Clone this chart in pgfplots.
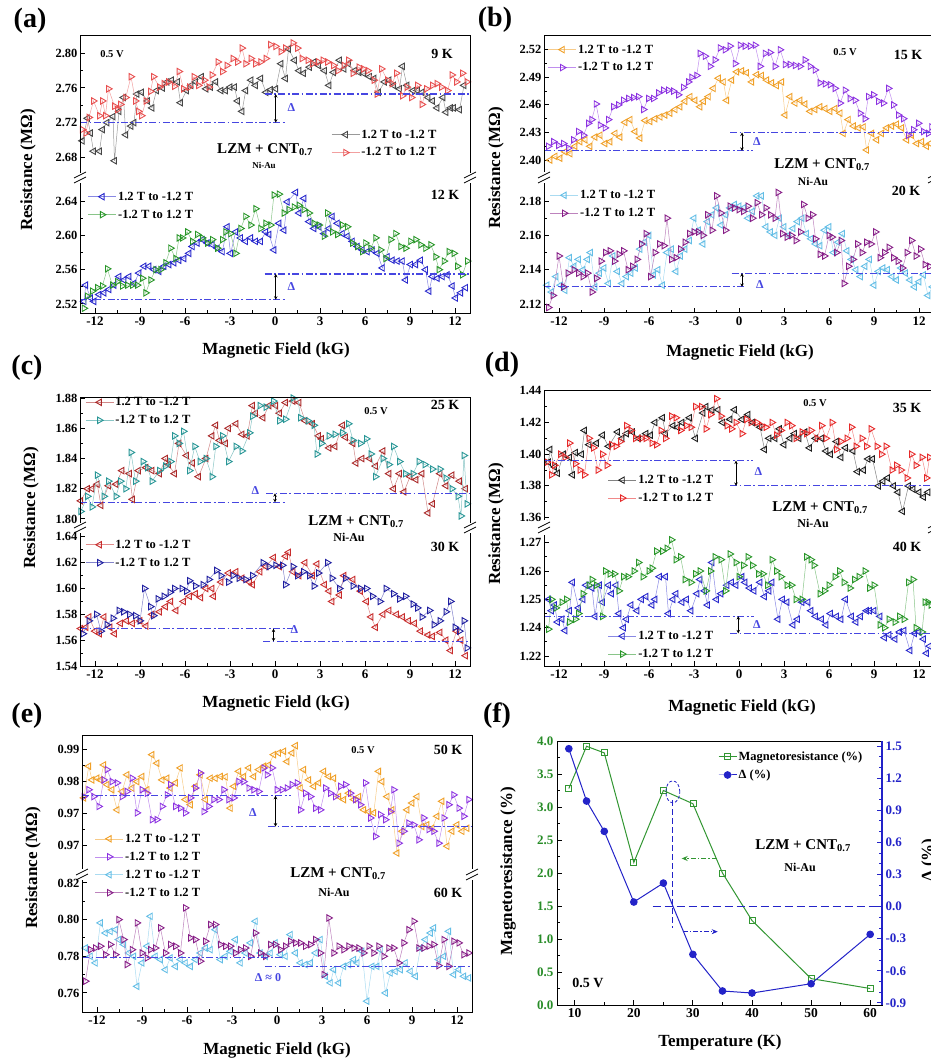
\documentclass[border=0pt]{standalone}
\usepackage{fontspec}
\setmainfont{Liberation Serif}
\usepackage{pgfplots}
\pgfplotsset{compat=1.18}
\usetikzlibrary{arrows.meta}

\definecolor{cBlack}{RGB}{70,70,70}
\definecolor{cRed}{RGB}{232,80,80}
\definecolor{cBlue}{RGB}{40,40,205}
\definecolor{cGreen}{RGB}{40,150,40}
\definecolor{cOrange}{RGB}{240,160,40}
\definecolor{cViolet}{RGB}{140,50,225}
\definecolor{cSky}{RGB}{100,190,230}
\definecolor{cPlum}{RGB}{135,30,135}
\definecolor{cBrick}{RGB}{170,40,40}
\definecolor{cTeal}{RGB}{40,150,150}
\definecolor{cBrickB}{RGB}{200,45,45}
\definecolor{cNavy}{RGB}{30,30,160}
\definecolor{cInk}{RGB}{30,30,30}
\definecolor{cScarlet}{RGB}{230,40,40}
\definecolor{cDelta}{RGB}{70,70,225}
\definecolor{cMR}{RGB}{50,150,50}
\definecolor{cMRdark}{RGB}{40,140,40}
\definecolor{cDblue}{RGB}{35,35,200}

\newcommand{\fTY}{\bfseries\fontsize{12.5}{12.5}\selectfont}
\newcommand{\fTX}{\bfseries\fontsize{13}{13}\selectfont}
\newcommand{\fLeg}{\bfseries\fontsize{12.5}{12.5}\selectfont}
\newcommand{\fAx}{\bfseries\fontsize{17}{17}\selectfont}
\newcommand{\fPan}{\bfseries\fontsize{28}{28}\selectfont}
\newcommand{\fTemp}{\bfseries\fontsize{14}{14}\selectfont}
\newcommand{\fVolt}{\bfseries\fontsize{10.5}{10.5}\selectfont}
\newcommand{\fCmp}{\bfseries\fontsize{15}{15}\selectfont}
\newcommand{\fNi}{\bfseries\fontsize{12}{12}\selectfont}
\newcommand{\fDel}{\bfseries\fontsize{12}{12}\selectfont}

\tikzset{
  arr/.style={black, line width=0.8pt, {Stealth[length=3.5pt,width=3.5pt]}-{Stealth[length=3.5pt,width=3.5pt]}},
}

\pgfplotsset{
  rbase/.style={
    scale only axis, width=390pt, anchor=north west,
    xmin=-13, xmax=13,
    axis line style={draw=none},
    clip mode=individual,
    tick align=inside,
    xtick pos=left, ytick pos=left,
    major tick length=5pt, minor tick length=3pt,
    tick style={black, line width=1pt},
    minor y tick num=1,
    /pgf/number format/assume math mode=true,
    yticklabel style={font=\fTY, xshift=1pt, /pgf/number format/.cd, fixed, fixed zerofill, precision=2},
    xticklabel style={font=\fTX},
    legend cell align=left,
    legend style={draw=none, fill=none, inner sep=0pt, anchor=north west,
      font=\fLeg, row sep=5pt, nodes={inner sep=1.6pt}},
    legend image code/.code={\draw[mark repeat=2, mark phase=2, ##1]
      plot coordinates {(0pt,0pt) (14pt,0pt) (28pt,0pt)};},
  },
  rtop/.style={rbase, xtick=\empty,
    after end axis/.append code={\draw[line width=1pt, line cap=rect]
      (rel axis cs:0,0) -- (rel axis cs:0,1) -- (rel axis cs:1,1) -- (rel axis cs:1,0);}},
  rbot/.style={rbase, xtick={-12,-9,-6,-3,0,3,6,9,12}, minor x tick num=1,
    after end axis/.append code={\draw[line width=1pt, line cap=rect]
      (rel axis cs:0,1) -- (rel axis cs:0,0) -- (rel axis cs:1,0) -- (rel axis cs:1,1);}},
  swp/.style 2 args={color=#1!55!white, line width=0.5pt, mark=triangle, mark size=3.7pt,
    mark options={draw=#1, fill=none, line width=0.9pt, rotate=#2, solid}},
  dl/.style={color=cDelta, line width=1.1pt, dash pattern=on 7pt off 2.5pt on 1.8pt off 2.5pt, forget plot},
}

\newcommand{\brk}[2]{%
  \draw[line width=0.8pt] (#1pt-6pt,-#2pt-1pt) -- (#1pt+6pt,-#2pt+5pt);
  \draw[line width=0.8pt] (#1pt-6pt,-#2pt-6pt) -- (#1pt+6pt,-#2pt);}

\begin{document}
\begin{tikzpicture}

%================ (a) 9 K ================
\begin{axis}[rtop, at={(80pt,-36pt)}, height=136pt, ymin=2.663, ymax=2.82,
  ytick={2.68,2.72,2.76,2.80}, legend style={at={(0.644,0.324)}}]
\addplot[swp={cBlack}{90}] coordinates {
(-12.85,2.699) (-12.5,2.725) (-12.3,2.708) (-12.1,2.687) (-11.7,2.687) (-11.5,2.712) (-11.2,2.720) (-10.8,2.727) (-10.7,2.676) (-10.4,2.733) (-10.1,2.749) (-9.95,2.706) (-9.6,2.716) (-9.4,2.720) (-9.2,2.753) (-8.9,2.755) (-8.5,2.745) (-8.2,2.737) (-7.9,2.757) (-7.5,2.760) (-7.2,2.767) (-6.9,2.769) (-6.5,2.767) (-6.3,2.743) (-5.9,2.757) (-5.6,2.763) (-5.3,2.767) (-4.9,2.773) (-4.6,2.759) (-4.3,2.761) (-3.95,2.767) (-3.6,2.757) (-3.3,2.757) (-3.0,2.761) (-2.7,2.761) (-2.5,2.745) (-2.2,2.733) (-1.95,2.757) (-1.6,2.769) (-1.3,2.763) (-0.95,2.771) (-0.6,2.755) (-0.3,2.758) (0.05,2.759) (0.4,2.788) (0.7,2.771) (0.9,2.805) (1.3,2.792) (1.6,2.780) (1.9,2.777) (2.3,2.784) (2.6,2.790) (2.9,2.786) (3.3,2.780) (3.6,2.763) (3.9,2.778) (4.3,2.792) (4.6,2.782) (4.9,2.788) (5.3,2.780) (5.6,2.778) (5.9,2.777) (6.3,2.773) (6.6,2.771) (6.9,2.755) (7.3,2.767) (7.6,2.769) (7.9,2.763) (8.3,2.759) (8.5,2.785) (8.8,2.763) (9.2,2.757) (9.5,2.757) (9.8,2.755) (10.2,2.749) (10.5,2.745) (10.8,2.737) (11.2,2.749) (11.4,2.732) (11.7,2.737) (11.9,2.737) (12.3,2.735) (12.6,2.763)};
\addlegendentry{1.2 T to -1.2 T}
\addplot[swp={cRed}{-90}] coordinates {
(-12.85,2.712) (-12.6,2.708) (-12.4,2.726) (-12.1,2.745) (-11.7,2.728) (-11.5,2.745) (-11.3,2.728) (-11.1,2.759) (-10.7,2.739) (-10.5,2.735) (-10.3,2.741) (-9.95,2.749) (-9.6,2.773) (-9.3,2.745) (-9.1,2.733) (-8.9,2.728) (-8.6,2.745) (-8.3,2.756) (-8.1,2.773) (-7.7,2.761) (-7.4,2.765) (-7.1,2.767) (-6.7,2.762) (-6.4,2.779) (-6.1,2.759) (-5.7,2.761) (-5.4,2.773) (-5.1,2.763) (-4.7,2.769) (-4.4,2.761) (-4.2,2.775) (-3.8,2.790) (-3.5,2.779) (-3.2,2.786) (-2.8,2.794) (-2.5,2.790) (-2.2,2.806) (-1.95,2.788) (-1.6,2.794) (-1.3,2.788) (-0.95,2.790) (-0.6,2.794) (-0.3,2.810) (0.05,2.808) (0.4,2.802) (0.7,2.806) (1.2,2.812) (1.5,2.806) (1.8,2.794) (2.2,2.792) (2.5,2.788) (2.9,2.790) (3.2,2.792) (3.5,2.790) (3.9,2.786) (4.2,2.780) (4.6,2.786) (4.9,2.792) (5.2,2.777) (5.6,2.784) (5.9,2.782) (6.2,2.780) (6.6,2.769) (6.8,2.753) (7.1,2.782) (7.5,2.769) (7.8,2.765) (8.1,2.777) (8.5,2.751) (8.8,2.761) (9.1,2.749) (9.5,2.763) (9.8,2.741) (10.1,2.759) (10.5,2.763) (10.8,2.765) (11.1,2.761) (11.5,2.757) (11.8,2.775) (12.1,2.767) (12.5,2.777) (12.8,2.767)};
\addlegendentry{-1.2 T to 1.2 T}
\addplot[dl] coordinates {(-13,2.72) (0.7,2.72)};
\addplot[dl] coordinates {(-0.7,2.753) (13,2.753)};
\draw[arr] (axis cs:0.05,2.72) -- (axis cs:0.05,2.753);
\node[text=cDelta, font=\fDel] at (axis cs:1.1,2.737) {Δ};
\end{axis}

%================ (a) 12 K ================
\begin{axis}[rbot, at={(80pt,-183pt)}, height=130pt, ymin=2.5095, ymax=2.661,
  ytick={2.52,2.56,2.60,2.64}, legend style={at={(0.02,0.946)}}]
\addplot[swp={cBlue}{90}] coordinates {
(-12.73,2.523) (-12.62,2.542) (-12.29,2.527) (-12.07,2.523) (-11.73,2.531) (-11.40,2.533) (-11.07,2.537) (-10.73,2.542) (-10.40,2.552) (-10.07,2.548) (-9.73,2.552) (-9.40,2.544) (-9.07,2.556) (-8.73,2.564) (-8.40,2.564) (-8.07,2.560) (-7.73,2.558) (-7.40,2.564) (-7.07,2.566) (-6.73,2.568) (-6.40,2.571) (-6.07,2.573) (-5.73,2.579) (-5.51,2.587) (-5.18,2.591) (-4.84,2.595) (-4.51,2.591) (-4.18,2.589) (-3.84,2.585) (-3.51,2.581) (-3.18,2.610) (-2.96,2.579) (-2.62,2.604) (-2.29,2.597) (-1.96,2.593) (-1.62,2.597) (-1.29,2.593) (-0.96,2.593) (-0.62,2.604) (-0.40,2.601) (-0.07,2.583) (0.27,2.614) (0.60,2.606) (0.82,2.639) (1.38,2.650) (1.60,2.626) (1.93,2.643) (2.27,2.616) (2.60,2.608) (2.93,2.610) (3.27,2.602) (3.60,2.608) (3.82,2.622) (4.16,2.614) (4.49,2.602) (4.82,2.599) (5.16,2.593) (5.49,2.587) (5.82,2.583) (6.16,2.581) (6.49,2.583) (6.82,2.579) (7.16,2.562) (7.49,2.575) (7.82,2.571) (8.16,2.570) (8.49,2.570) (8.71,2.548) (9.04,2.566) (9.38,2.566) (9.71,2.571) (10.04,2.560) (10.27,2.535) (10.49,2.552) (10.82,2.550) (11.16,2.552) (11.49,2.554) (11.82,2.541) (12.04,2.527) (12.38,2.533) (12.71,2.539)};
\addlegendentry{1.2 T to -1.2 T}
\addplot[swp={cGreen}{-90}] coordinates {
(-12.73,2.515) (-12.51,2.529) (-12.18,2.535) (-11.84,2.539) (-11.51,2.541) (-11.18,2.561) (-10.84,2.542) (-10.51,2.546) (-10.18,2.541) (-9.84,2.542) (-9.51,2.542) (-9.18,2.542) (-8.84,2.550) (-8.62,2.533) (-8.29,2.548) (-7.96,2.560) (-7.62,2.560) (-7.29,2.568) (-6.96,2.585) (-6.62,2.573) (-6.40,2.597) (-6.18,2.597) (-5.84,2.604) (-5.51,2.593) (-5.18,2.601) (-4.84,2.597) (-4.51,2.591) (-4.18,2.595) (-3.84,2.585) (-3.51,2.595) (-3.29,2.604) (-2.96,2.602) (-2.62,2.579) (-2.29,2.608) (-1.96,2.622) (-1.62,2.612) (-1.29,2.631) (-0.96,2.608) (-0.62,2.614) (-0.29,2.612) (-0.07,2.647) (0.27,2.648) (0.60,2.626) (0.93,2.630) (1.27,2.633) (1.60,2.635) (1.93,2.630) (2.27,2.626) (2.60,2.614) (2.93,2.612) (3.27,2.599) (3.49,2.626) (3.82,2.604) (4.16,2.601) (4.49,2.612) (4.82,2.610) (5.16,2.591) (5.49,2.587) (5.82,2.581) (6.04,2.591) (6.38,2.585) (6.71,2.597) (7.04,2.583) (7.38,2.573) (7.71,2.595) (8.04,2.602) (8.38,2.587) (8.71,2.585) (9.04,2.593) (9.38,2.595) (9.71,2.589) (10.04,2.585) (10.38,2.589) (10.71,2.575) (10.93,2.560) (11.27,2.570) (11.60,2.581) (11.93,2.579) (12.16,2.564) (12.49,2.554) (12.82,2.570)};
\addlegendentry{-1.2 T to 1.2 T}
\addplot[dl] coordinates {(-13,2.525) (0.7,2.525)};
\addplot[dl] coordinates {(-0.7,2.555) (13,2.555)};
\draw[arr] (axis cs:0.05,2.525) -- (axis cs:0.05,2.555);
\node[text=cDelta, font=\fDel] at (axis cs:1.1,2.54) {Δ};
\end{axis}

%================ (b) 15 K ================
\begin{axis}[rtop, at={(544pt,-36pt)}, height=136pt, ymin=2.387, ymax=2.535,
  ytick={2.40,2.43,2.46,2.49,2.52}, legend style={at={(0.01,0.949)}}]
\addplot[swp={cOrange}{90}] coordinates {
(-12.60,2.400) (-12.26,2.404) (-11.93,2.402) (-11.60,2.409) (-11.26,2.407) (-10.93,2.415) (-10.60,2.420) (-10.26,2.422) (-9.93,2.415) (-9.60,2.425) (-9.26,2.427) (-8.93,2.418) (-8.60,2.420) (-8.26,2.429) (-7.93,2.425) (-7.60,2.441) (-7.26,2.444) (-6.93,2.431) (-6.60,2.424) (-6.26,2.443) (-5.93,2.442) (-5.60,2.445) (-5.26,2.447) (-4.93,2.449) (-4.60,2.451) (-4.26,2.455) (-3.93,2.458) (-3.60,2.464) (-3.26,2.469) (-2.93,2.465) (-2.60,2.458) (-2.37,2.464) (-2.04,2.469) (-1.71,2.478) (-1.37,2.489) (-1.04,2.485) (-0.82,2.465) (-0.48,2.487) (-0.15,2.496) (0.18,2.497) (0.51,2.495) (0.85,2.485) (1.18,2.493) (1.51,2.492) (1.85,2.487) (2.18,2.484) (2.51,2.481) (2.85,2.485) (3.07,2.449) (3.40,2.469) (3.74,2.462) (4.07,2.465) (4.40,2.461) (4.74,2.453) (5.07,2.455) (5.40,2.458) (5.74,2.456) (6.07,2.453) (6.40,2.456) (6.74,2.451) (6.96,2.429) (7.29,2.444) (7.63,2.437) (7.96,2.435) (8.29,2.436) (8.51,2.411) (8.85,2.429) (9.18,2.422) (9.51,2.429) (9.85,2.435) (10.18,2.437) (10.51,2.439) (10.85,2.435) (11.18,2.422) (11.51,2.427) (11.85,2.418) (12.18,2.420) (12.51,2.415) (12.74,2.418)};
\addlegendentry{1.2 T to -1.2 T}
\addplot[swp={cViolet}{-90}] coordinates {
(-12.71,2.415) (-12.37,2.420) (-12.04,2.416) (-11.71,2.418) (-11.37,2.413) (-11.04,2.422) (-10.71,2.431) (-10.37,2.427) (-10.04,2.440) (-9.82,2.444) (-9.53,2.461) (-9.26,2.438) (-8.93,2.435) (-8.71,2.444) (-8.37,2.458) (-8.04,2.460) (-7.71,2.465) (-7.37,2.467) (-7.04,2.468) (-6.71,2.469) (-6.37,2.455) (-6.04,2.467) (-5.71,2.467) (-5.37,2.473) (-5.04,2.476) (-4.71,2.476) (-4.37,2.475) (-4.04,2.471) (-3.71,2.479) (-3.37,2.485) (-3.15,2.490) (-2.82,2.492) (-2.60,2.516) (-2.26,2.513) (-1.93,2.502) (-1.60,2.509) (-1.26,2.522) (-0.93,2.520) (-0.60,2.524) (-0.26,2.505) (0.07,2.525) (0.40,2.524) (0.74,2.524) (1.07,2.525) (1.40,2.502) (1.74,2.516) (2.07,2.517) (2.40,2.502) (2.74,2.520) (3.07,2.504) (3.40,2.504) (3.74,2.503) (4.07,2.502) (4.40,2.509) (4.74,2.502) (5.07,2.498) (5.40,2.484) (5.74,2.483) (6.07,2.482) (6.40,2.478) (6.74,2.462) (7.07,2.476) (7.40,2.467) (7.74,2.465) (8.07,2.451) (8.40,2.445) (8.62,2.469) (8.96,2.471) (9.29,2.464) (9.62,2.462) (9.96,2.478) (10.29,2.460) (10.62,2.449) (10.96,2.445) (11.29,2.427) (11.62,2.433) (11.96,2.440) (12.29,2.431) (12.62,2.429) (12.84,2.436)};
\addlegendentry{-1.2 T to 1.2 T}
\addplot[dl] coordinates {(-13,2.41) (0.9,2.41)};
\addplot[dl] coordinates {(-0.6,2.43) (13,2.43)};
\draw[arr] (axis cs:0.2,2.41) -- (axis cs:0.2,2.43);
\node[text=cDelta, font=\fDel] at (axis cs:1.2,2.42) {Δ};
\end{axis}

%================ (b) 20 K ================
\begin{axis}[rbot, at={(544pt,-183pt)}, height=130pt, ymin=2.1148, ymax=2.1905,
  ytick={2.12,2.14,2.16,2.18}, legend style={at={(0.015,0.957)}}]
\addplot[swp={cSky}{90}] coordinates {
(-12.8,2.131) (-12.5,2.127) (-12.2,2.136) (-11.9,2.131) (-11.6,2.128) (-11.3,2.147) (-11.0,2.142) (-10.7,2.146) (-10.4,2.140) (-10.1,2.146) (-9.9,2.150) (-9.6,2.130) (-9.3,2.138) (-9.0,2.141) (-8.7,2.132) (-8.4,2.148) (-8.1,2.139) (-7.8,2.132) (-7.5,2.136) (-7.2,2.138) (-6.9,2.141) (-6.6,2.152) (-6.3,2.156) (-6.0,2.160) (-5.7,2.137) (-5.4,2.140) (-5.1,2.131) (-4.8,2.150) (-4.5,2.152) (-4.2,2.139) (-3.9,2.148) (-3.6,2.152) (-3.3,2.157) (-3.0,2.170) (-2.7,2.163) (-2.4,2.155) (-2.1,2.168) (-1.8,2.172) (-1.5,2.176) (-1.2,2.166) (-0.9,2.172) (-0.6,2.176) (-0.3,2.178) (0.0,2.177) (0.3,2.176) (0.6,2.170) (0.9,2.174) (1.2,2.183) (1.5,2.183) (1.8,2.165) (2.1,2.162) (2.4,2.160) (2.7,2.170) (3.0,2.165) (3.3,2.160) (3.6,2.164) (3.9,2.168) (4.2,2.170) (4.5,2.161) (4.8,2.158) (5.1,2.155) (5.4,2.154) (5.7,2.163) (6.0,2.165) (6.3,2.150) (6.6,2.156) (6.9,2.161) (7.2,2.151) (7.5,2.146) (7.8,2.140) (8.1,2.136) (8.4,2.142) (8.7,2.146) (9.0,2.131) (9.3,2.139) (9.6,2.141) (9.9,2.140) (10.2,2.136) (10.5,2.134) (10.8,2.141) (11.1,2.138) (11.4,2.134) (11.7,2.130) (12.0,2.133) (12.3,2.137) (12.6,2.125) (12.9,2.130)};
\addlegendentry{1.2 T to -1.2 T}
\addplot[swp={cPlum}{-90}] coordinates {
(-12.7,2.118) (-12.4,2.125) (-12.0,2.148) (-11.7,2.130) (-11.4,2.138) (-11.0,2.140) (-10.7,2.138) (-10.4,2.136) (-10.1,2.138) (-9.8,2.127) (-9.5,2.135) (-9.2,2.145) (-8.9,2.150) (-8.6,2.151) (-8.3,2.145) (-8.0,2.149) (-7.7,2.151) (-7.4,2.140) (-7.1,2.142) (-6.8,2.146) (-6.5,2.155) (-6.2,2.161) (-5.9,2.136) (-5.6,2.150) (-5.3,2.155) (-5.0,2.154) (-4.8,2.170) (-4.5,2.146) (-4.2,2.147) (-3.9,2.152) (-3.6,2.156) (-3.3,2.161) (-3.0,2.162) (-2.7,2.162) (-2.4,2.160) (-2.1,2.172) (-1.8,2.163) (-1.5,2.183) (-1.2,2.173) (-0.9,2.163) (-0.6,2.177) (-0.3,2.176) (0.0,2.175) (0.3,2.174) (0.6,2.177) (0.9,2.170) (1.2,2.179) (1.5,2.172) (1.8,2.176) (2.1,2.172) (2.4,2.170) (2.6,2.185) (2.9,2.161) (3.2,2.159) (3.5,2.160) (3.8,2.157) (4.1,2.162) (4.3,2.178) (4.6,2.170) (4.9,2.172) (5.1,2.158) (5.4,2.149) (5.7,2.148) (6.0,2.160) (6.2,2.159) (6.5,2.150) (6.8,2.157) (7.0,2.132) (7.3,2.142) (7.6,2.146) (7.9,2.155) (8.2,2.150) (8.5,2.156) (8.8,2.155) (9.1,2.162) (9.4,2.147) (9.7,2.150) (10.0,2.153) (10.3,2.147) (10.6,2.145) (10.9,2.141) (11.2,2.150) (11.5,2.157) (11.8,2.148) (12.1,2.152) (12.4,2.143) (12.7,2.142)};
\addlegendentry{-1.2 T to 1.2 T}
\addplot[dl] coordinates {(-13,2.130) (0.5,2.130)};
\addplot[dl] coordinates {(-0.5,2.138) (13,2.138)};
\draw[arr] (axis cs:0.2,2.130) -- (axis cs:0.2,2.138);
\node[text=cDelta, font=\fDel] at (axis cs:1.4,2.1315) {Δ};
\end{axis}

%================ (c) 25 K ================
\begin{axis}[rtop, at={(80pt,-397pt)}, height=125pt, ymin=1.798, ymax=1.8807,
  ytick={1.80,1.82,1.84,1.86,1.88}, legend style={at={(0.013,1.011)}}]
\addplot[swp={cBrick}{90}] coordinates {
(-12.95,1.812) (-12.5,1.820) (-12.2,1.820) (-11.85,1.823) (-11.6,1.809) (-11.1,1.822) (-10.6,1.823) (-10.2,1.832) (-9.7,1.830) (-9.5,1.813) (-9.1,1.832) (-8.6,1.834) (-8.2,1.832) (-7.7,1.830) (-7.3,1.840) (-7.1,1.836) (-6.7,1.830) (-6.4,1.850) (-5.9,1.842) (-5.5,1.837) (-5.1,1.828) (-4.6,1.840) (-4.2,1.855) (-3.95,1.862) (-3.7,1.852) (-3.3,1.850) (-3.1,1.860) (-2.6,1.863) (-2.2,1.856) (-1.85,1.855) (-1.5,1.875) (-1.3,1.870) (-0.8,1.867) (-0.4,1.875) (0.05,1.875) (0.3,1.870) (0.7,1.877) (1.2,1.878) (1.6,1.877) (2.0,1.865) (2.5,1.863) (2.9,1.855) (3.1,1.853) (3.6,1.847) (4.0,1.848) (4.5,1.862) (4.7,1.854) (5.2,1.850) (5.4,1.837) (5.8,1.840) (6.3,1.840) (6.7,1.835) (7.2,1.845) (7.6,1.830) (7.9,1.820) (8.3,1.830) (8.6,1.818) (9.0,1.828) (9.4,1.826) (9.8,1.830) (10.2,1.804) (10.5,1.810) (11.0,1.830) (11.4,1.822) (11.8,1.829) (12.3,1.825) (12.7,1.820)};
\addlegendentry{1.2 T to -1.2 T}
\addplot[swp={cTeal}{-90}] coordinates {
(-12.95,1.805) (-12.5,1.815) (-12.2,1.808) (-11.85,1.829) (-11.4,1.815) (-11.1,1.825) (-10.6,1.815) (-10.3,1.825) (-9.95,1.820) (-9.6,1.844) (-9.3,1.825) (-8.8,1.838) (-8.5,1.834) (-8.2,1.825) (-7.7,1.832) (-7.3,1.835) (-6.95,1.838) (-6.7,1.855) (-6.4,1.850) (-6.1,1.858) (-5.7,1.832) (-5.35,1.848) (-5.0,1.838) (-4.6,1.840) (-4.2,1.828) (-3.95,1.848) (-3.5,1.855) (-3.1,1.838) (-2.6,1.848) (-2.2,1.845) (-1.7,1.857) (-1.5,1.868) (-1.0,1.875) (-0.6,1.874) (-0.1,1.878) (0.3,1.865) (0.7,1.866) (1.2,1.880) (1.5,1.881) (1.7,1.867) (2.2,1.865) (2.6,1.862) (2.8,1.843) (3.1,1.850) (3.6,1.855) (4.0,1.856) (4.5,1.857) (4.9,1.863) (5.2,1.852) (5.7,1.850) (6.1,1.853) (6.4,1.843) (6.7,1.828) (7.2,1.840) (7.6,1.836) (7.9,1.848) (8.3,1.838) (8.7,1.830) (9.2,1.830) (9.6,1.838) (10.0,1.836) (10.5,1.833) (11.0,1.833) (11.4,1.827) (11.8,1.820) (12.2,1.815) (12.4,1.802) (12.6,1.842) (12.8,1.810)};
\addlegendentry{-1.2 T to 1.2 T}
\addplot[dl] coordinates {(-13,1.811) (0.7,1.811)};
\addplot[dl] coordinates {(-0.6,1.817) (13,1.817)};
\draw[arr] (axis cs:0.0,1.811) -- (axis cs:0.0,1.817);
\node[text=cDelta, font=\fDel] at (axis cs:-1.3,1.8185) {Δ};
\end{axis}

%================ (c) 30 K ================
\begin{axis}[rbot, at={(80pt,-533pt)}, height=133pt, ymin=1.54, ymax=1.643,
  ytick={1.54,1.56,1.58,1.60,1.62,1.64}, legend style={at={(0.013,0.962)}}]
\addplot[swp={cBrickB}{90}] coordinates {
(-12.95,1.569) (-12.6,1.570) (-12.4,1.578) (-12.0,1.567) (-11.7,1.565) (-11.4,1.578) (-11.0,1.570) (-10.7,1.565) (-10.3,1.573) (-9.9,1.575) (-9.5,1.573) (-9.0,1.575) (-8.6,1.571) (-8.2,1.580) (-7.7,1.582) (-7.3,1.586) (-6.95,1.590) (-6.6,1.583) (-6.1,1.590) (-5.7,1.594) (-5.3,1.596) (-4.95,1.593) (-4.6,1.600) (-4.2,1.600) (-4.1,1.594) (-3.6,1.605) (-3.1,1.612) (-2.6,1.613) (-2.2,1.608) (-1.7,1.605) (-1.5,1.603) (-1.0,1.613) (-0.6,1.617) (-0.1,1.624) (0.3,1.617) (0.7,1.625) (0.9,1.628) (1.2,1.613) (1.6,1.610) (2.0,1.620) (2.5,1.610) (2.8,1.619) (3.3,1.603) (3.6,1.598) (3.8,1.590) (4.3,1.595) (4.6,1.610) (5.2,1.607) (5.7,1.598) (6.1,1.590) (6.4,1.578) (6.7,1.570) (7.2,1.580) (7.6,1.583) (8.1,1.580) (8.5,1.578) (8.9,1.575) (9.3,1.573) (9.7,1.567) (10.2,1.564) (10.5,1.563) (11.0,1.566) (11.4,1.560) (11.7,1.552) (12.1,1.567) (12.4,1.560) (12.7,1.548)};
\addlegendentry{1.2 T to -1.2 T}
\addplot[swp={cNavy}{-90}] coordinates {
(-12.8,1.565) (-12.4,1.575) (-11.9,1.580) (-11.6,1.567) (-11.2,1.572) (-10.8,1.577) (-10.4,1.583) (-10.1,1.582) (-9.7,1.580) (-9.3,1.579) (-9.0,1.575) (-8.7,1.600) (-8.3,1.586) (-8.1,1.579) (-7.8,1.592) (-7.4,1.594) (-7.0,1.597) (-6.7,1.600) (-6.2,1.600) (-5.9,1.598) (-5.7,1.606) (-5.3,1.602) (-4.8,1.603) (-4.4,1.607) (-3.9,1.614) (-3.6,1.610) (-3.1,1.605) (-2.8,1.610) (-2.4,1.608) (-1.95,1.607) (-1.5,1.610) (-0.8,1.620) (-0.4,1.617) (0.05,1.618) (0.5,1.618) (0.7,1.603) (1.2,1.617) (1.5,1.610) (1.9,1.613) (2.3,1.610) (2.6,1.602) (2.9,1.612) (3.5,1.620) (3.8,1.608) (4.3,1.600) (4.7,1.608) (5.2,1.602) (5.7,1.600) (6.1,1.600) (6.5,1.594) (7.0,1.590) (7.4,1.600) (7.9,1.596) (8.3,1.592) (8.7,1.594) (9.2,1.588) (9.5,1.585) (9.8,1.578) (10.3,1.583) (10.6,1.572) (11.0,1.575) (11.4,1.582) (11.7,1.590) (12.0,1.570) (12.3,1.567) (12.6,1.575) (12.8,1.554)};
\addlegendentry{-1.2 T to 1.2 T}
\addplot[dl] coordinates {(-13,1.569) (1.2,1.569)};
\addplot[dl] coordinates {(-0.8,1.559) (13,1.559)};
\draw[arr] (axis cs:-0.1,1.559) -- (axis cs:-0.1,1.569);
\node[text=cDelta, font=\fDel] at (axis cs:1.3,1.5685) {Δ};
\end{axis}

%================ (d) 35 K ================
\begin{axis}[rtop, at={(544pt,-390pt)}, height=130pt, ymin=1.3585, ymax=1.4405,
  ytick={1.36,1.38,1.40,1.42,1.44}, legend style={at={(0.164,0.358)}}]
\addplot[swp={cInk}{90}] coordinates {
(-12.7,1.395) (-12.6,1.403) (-12.3,1.392) (-12.1,1.388) (-11.7,1.400) (-11.3,1.398) (-11.1,1.387) (-10.9,1.401) (-10.5,1.400) (-10.3,1.415) (-10.0,1.406) (-9.5,1.407) (-9.1,1.412) (-8.7,1.405) (-8.1,1.414) (-7.8,1.410) (-7.5,1.413) (-7.1,1.414) (-6.7,1.410) (-6.2,1.413) (-5.9,1.412) (-5.6,1.420) (-5.1,1.423) (-4.9,1.413) (-4.4,1.418) (-4.1,1.417) (-3.8,1.420) (-3.3,1.423) (-2.9,1.410) (-2.4,1.426) (-2.2,1.430) (-1.8,1.428) (-1.4,1.428) (-1.1,1.420) (-0.6,1.422) (-0.3,1.428) (0.2,1.422) (0.6,1.425) (0.9,1.420) (1.4,1.417) (1.7,1.403) (2.0,1.410) (2.4,1.410) (2.7,1.416) (3.0,1.406) (3.4,1.410) (3.7,1.413) (4.0,1.410) (4.4,1.414) (4.7,1.404) (5.1,1.410) (5.5,1.410) (5.8,1.402) (6.1,1.400) (6.5,1.408) (6.8,1.398) (7.1,1.404) (7.6,1.402) (7.9,1.389) (8.3,1.390) (8.6,1.397) (8.9,1.397) (9.3,1.380) (9.6,1.383) (9.9,1.385) (10.3,1.380) (10.6,1.376) (10.9,1.364) (11.3,1.380) (11.6,1.378) (12.0,1.376) (12.3,1.373) (12.6,1.376)};
\addlegendentry{1.2 T to -1.2 T}
\addplot[swp={cScarlet}{-90}] coordinates {
(-12.8,1.395) (-12.5,1.387) (-12.3,1.393) (-11.9,1.400) (-11.6,1.398) (-11.3,1.407) (-10.9,1.394) (-10.6,1.390) (-10.3,1.387) (-10.0,1.410) (-9.7,1.404) (-9.4,1.390) (-9.1,1.400) (-8.8,1.393) (-8.5,1.406) (-8.2,1.405) (-7.9,1.408) (-7.5,1.418) (-7.2,1.415) (-6.9,1.410) (-6.5,1.410) (-6.2,1.410) (-5.8,1.407) (-5.5,1.406) (-5.2,1.415) (-4.9,1.410) (-4.5,1.424) (-4.2,1.423) (-3.9,1.415) (-3.5,1.418) (-3.2,1.417) (-2.9,1.430) (-2.5,1.430) (-2.2,1.416) (-1.9,1.425) (-1.5,1.435) (-1.2,1.424) (-0.8,1.418) (-0.5,1.416) (-0.2,1.420) (0.2,1.413) (0.5,1.422) (0.8,1.420) (1.2,1.420) (1.5,1.418) (1.8,1.417) (2.2,1.420) (2.5,1.412) (2.8,1.415) (3.2,1.420) (3.5,1.418) (3.8,1.410) (4.2,1.414) (4.5,1.413) (4.8,1.415) (5.2,1.410) (5.5,1.418) (5.8,1.410) (6.2,1.420) (6.5,1.403) (6.8,1.408) (7.2,1.410) (7.5,1.417) (7.8,1.405) (8.2,1.410) (8.5,1.405) (8.8,1.416) (9.2,1.405) (9.5,1.400) (9.8,1.405) (10.2,1.390) (10.5,1.393) (10.8,1.390) (11.2,1.385) (11.5,1.400) (11.8,1.393) (12.2,1.398) (12.5,1.385) (12.7,1.398)};
\addlegendentry{-1.2 T to 1.2 T}
\addplot[dl] coordinates {(-13,1.396) (0.9,1.396)};
\addplot[dl] coordinates {(-0.6,1.380) (13,1.380)};
\draw[arr] (axis cs:-0.2,1.380) -- (axis cs:-0.2,1.396);
\node[text=cDelta, font=\fDel] at (axis cs:1.3,1.389) {Δ};
\end{axis}

%================ (d) 40 K ================
\begin{axis}[rbot, at={(544pt,-535pt)}, height=131pt, ymin=1.2265, ymax=1.2727,
  ytick={1.23,1.24,1.25,1.26,1.27}, yticklabels={1.22,1.24,1.25,1.26,1.27},
  legend style={at={(0.164,0.279)}}]
\addplot[swp={cBlue}{90}] coordinates {
(-12.7,1.250) (-12.5,1.246) (-12.3,1.248) (-12.1,1.242) (-11.8,1.243) (-11.6,1.239) (-11.3,1.246) (-11.1,1.256) (-10.7,1.247) (-10.4,1.250) (-10.2,1.255) (-9.8,1.254) (-9.6,1.244) (-9.3,1.255) (-9.1,1.249) (-8.7,1.255) (-8.5,1.252) (-8.2,1.255) (-8.0,1.245) (-7.7,1.240) (-7.5,1.243) (-7.2,1.248) (-6.8,1.246) (-6.5,1.250) (-6.2,1.251) (-5.8,1.248) (-5.6,1.250) (-5.3,1.258) (-4.9,1.258) (-4.7,1.245) (-4.4,1.250) (-4.2,1.252) (-3.8,1.249) (-3.5,1.250) (-3.2,1.246) (-2.8,1.252) (-2.6,1.257) (-2.3,1.253) (-2.1,1.248) (-1.8,1.263) (-1.5,1.250) (-1.2,1.252) (-0.8,1.255) (-0.5,1.256) (-0.2,1.255) (0.2,1.258) (0.4,1.256) (0.7,1.254) (1.0,1.253) (1.4,1.256) (1.7,1.251) (2.0,1.253) (2.2,1.256) (2.6,1.243) (2.9,1.250) (3.2,1.249) (3.6,1.241) (3.9,1.243) (4.2,1.249) (4.6,1.249) (4.8,1.246) (5.1,1.244) (5.5,1.243) (5.8,1.241) (6.1,1.245) (6.5,1.244) (6.8,1.243) (7.1,1.250) (7.5,1.244) (7.8,1.242) (8.1,1.244) (8.5,1.246) (8.7,1.246) (9.0,1.246) (9.4,1.244) (9.7,1.2365) (10.0,1.2375) (10.4,1.236) (10.7,1.2385) (11.0,1.239) (11.4,1.232) (11.7,1.238) (12.0,1.2385) (12.3,1.236) (12.5,1.231) (12.7,1.2335)};
\addlegendentry{1.2 T to -1.2 T}
\addplot[swp={cGreen}{-90}] coordinates {
(-12.7,1.2395) (-12.5,1.250) (-12.2,1.247) (-11.8,1.249) (-11.5,1.250) (-11.3,1.242) (-10.9,1.243) (-10.7,1.245) (-10.4,1.252) (-10.0,1.255) (-9.8,1.257) (-9.5,1.255) (-9.1,1.244) (-8.9,1.260) (-8.6,1.259) (-8.3,1.259) (-8.0,1.253) (-7.7,1.258) (-7.4,1.258) (-7.0,1.260) (-6.7,1.263) (-6.4,1.258) (-6.0,1.260) (-5.8,1.261) (-5.5,1.267) (-5.1,1.267) (-4.8,1.268) (-4.5,1.271) (-4.2,1.264) (-3.9,1.265) (-3.6,1.257) (-3.2,1.256) (-2.9,1.259) (-2.6,1.260) (-2.2,1.253) (-1.9,1.260) (-1.6,1.265) (-1.2,1.264) (-0.9,1.253) (-0.6,1.266) (-0.2,1.263) (0.0,1.258) (0.3,1.262) (0.6,1.265) (0.9,1.262) (1.3,1.259) (1.6,1.259) (1.9,1.255) (2.2,1.264) (2.5,1.260) (2.8,1.258) (3.2,1.255) (3.5,1.255) (3.8,1.250) (4.2,1.250) (4.5,1.265) (4.8,1.264) (5.0,1.262) (5.4,1.252) (5.7,1.253) (6.0,1.255) (6.4,1.258) (6.7,1.260) (7.0,1.256) (7.4,1.254) (7.7,1.257) (8.0,1.258) (8.4,1.260) (8.7,1.254) (9.0,1.255) (9.4,1.241) (9.7,1.240) (10.0,1.243) (10.4,1.242) (10.7,1.244) (11.0,1.243) (11.3,1.256) (11.6,1.257) (11.8,1.240) (12.2,1.2385) (12.4,1.249) (12.6,1.249) (12.8,1.248)};
\addlegendentry{-1.2 T to 1.2 T}
\addplot[dl] coordinates {(-13,1.2441) (1.0,1.2441)};
\addplot[dl] coordinates {(-0.6,1.238) (13,1.238)};
\draw[arr] (axis cs:-0.05,1.238) -- (axis cs:-0.05,1.2441);
\node[text=cDelta, font=\fDel] at (axis cs:1.2,1.2412) {Δ};
\end{axis}

%================ (e) 50 K ================
\begin{axis}[rtop, at={(82pt,-735pt)}, height=133pt, ymin=0.9597, ymax=0.9908,
  ytick={0.965,0.9725,0.98,0.9875}, yticklabels={0.97,0.97,0.98,0.99},
  legend style={at={(0.033,0.27)}}]
\addplot[swp={cOrange}{90}] coordinates {
(-12.88,0.9761) (-12.55,0.9835) (-12.33,0.9803) (-12.0,0.9807) (-11.77,0.9803) (-11.55,0.9838) (-11.33,0.9792) (-11.0,0.9780) (-10.66,0.9733) (-10.33,0.9776) (-10.0,0.9815) (-9.66,0.9784) (-9.33,0.9799) (-9.0,0.9811) (-8.66,0.9780) (-8.33,0.9862) (-8.0,0.9842) (-7.66,0.9803) (-7.33,0.9807) (-7.11,0.9784) (-6.77,0.9796) (-6.44,0.9831) (-6.11,0.9757) (-5.77,0.9745) (-5.44,0.9788) (-5.11,0.9815) (-4.77,0.9757) (-4.44,0.9807) (-4.11,0.9807) (-3.77,0.9811) (-3.44,0.9810) (-3.11,0.9737) (-2.88,0.9788) (-2.55,0.9823) (-2.22,0.9811) (-1.88,0.9831) (-1.55,0.9811) (-1.22,0.9827) (-0.88,0.9835) (-0.55,0.9838) (-0.22,0.9862) (0.11,0.9866) (0.45,0.9870) (0.67,0.9846) (1.0,0.9866) (1.23,0.9883) (1.56,0.9784) (1.78,0.9827) (2.12,0.9803) (2.45,0.9788) (2.78,0.9796) (3.12,0.9823) (3.45,0.9811) (3.78,0.9807) (4.12,0.9764) (4.45,0.9757) (4.78,0.9772) (5.12,0.9757) (5.45,0.9764) (5.78,0.9733) (6.12,0.9729) (6.45,0.9726) (6.78,0.9823) (7.0,0.9799) (7.34,0.9764) (7.67,0.9733) (8.0,0.9632) (8.34,0.9683) (8.67,0.9733) (9.0,0.9749) (9.34,0.9764) (9.67,0.9694) (10.0,0.9698) (10.34,0.9690) (10.67,0.9718) (11.0,0.9753) (11.34,0.9648) (11.67,0.9683) (12.0,0.9698) (12.34,0.9683) (12.67,0.9690)};
\addlegendentry{1.2 T to -1.2 T}
\addplot[swp={cViolet}{-90}] coordinates {
(-12.88,0.9764) (-12.55,0.9780) (-12.22,0.9764) (-11.88,0.9741) (-11.55,0.9803) (-11.33,0.9827) (-11.0,0.9799) (-10.66,0.9796) (-10.33,0.9764) (-10.0,0.9776) (-9.66,0.9807) (-9.33,0.9726) (-9.0,0.9780) (-8.66,0.9772) (-8.33,0.9710) (-8.0,0.9710) (-7.66,0.9741) (-7.33,0.9768) (-7.11,0.9792) (-6.77,0.9741) (-6.44,0.9737) (-6.11,0.9726) (-5.77,0.9761) (-5.44,0.9784) (-5.11,0.9819) (-4.88,0.9729) (-4.55,0.9741) (-4.22,0.9757) (-3.88,0.9757) (-3.55,0.9780) (-3.22,0.9757) (-2.88,0.9761) (-2.55,0.9799) (-2.22,0.9799) (-1.88,0.9784) (-1.55,0.9780) (-1.22,0.9776) (-0.88,0.9831) (-0.66,0.9815) (-0.33,0.9831) (0.0,0.9780) (0.34,0.9780) (0.67,0.9784) (1.0,0.9792) (1.34,0.9796) (1.56,0.9733) (1.89,0.9772) (2.23,0.9764) (2.56,0.9737) (2.89,0.9733) (3.23,0.9784) (3.56,0.9772) (3.89,0.9764) (4.23,0.9788) (4.56,0.9792) (4.89,0.9772) (5.23,0.9757) (5.56,0.9745) (5.89,0.9796) (6.23,0.9714) (6.56,0.9671) (6.89,0.9722) (7.23,0.9710) (7.56,0.9729) (7.78,0.9780) (8.12,0.9655) (8.45,0.9683) (8.78,0.9702) (9.12,0.9698) (9.45,0.9663) (9.78,0.9714) (10.12,0.9687) (10.45,0.9683) (10.78,0.9655) (11.12,0.9714) (11.45,0.9745) (11.78,0.9768) (12.12,0.9737) (12.45,0.9718) (12.78,0.9757)};
\addlegendentry{-1.2 T to 1.2 T}
\addlegendimage{swp={cSky}{90}}
\addlegendentry{1.2 T to -1.2 T}
\addlegendimage{swp={cPlum}{-90}}
\addlegendentry{-1.2 T to 1.2 T}
\addplot[dl] coordinates {(-13,0.9766) (0.9,0.9766)};
\addplot[dl] coordinates {(-0.6,0.9694) (13,0.9694)};
\draw[arr] (axis cs:-0.1,0.9694) -- (axis cs:-0.1,0.9766);
\node[text=cDelta, font=\fDel] at (axis cs:-1.6,0.9726) {Δ};
\end{axis}

%================ (e) 60 K ================
\begin{axis}[rbot, at={(82pt,-880pt)}, height=132pt, ymin=0.7496, ymax=0.8216,
  ytick={0.76,0.78,0.80,0.82}]
\addplot[swp={cSky}{90}] coordinates {
(-12.77,0.7845) (-12.44,0.7800) (-12.11,0.7764) (-11.77,0.7982) (-11.44,0.7927) (-11.11,0.7936) (-10.77,0.7945) (-10.55,0.7891) (-10.22,0.7864) (-9.88,0.7818) (-9.55,0.7800) (-9.33,0.7636) (-9.0,0.7764) (-8.66,0.7855) (-8.44,0.8018) (-8.11,0.7800) (-7.77,0.7782) (-7.44,0.7727) (-7.11,0.7791) (-6.77,0.7745) (-6.44,0.7782) (-6.11,0.7764) (-5.77,0.7745) (-5.44,0.7782) (-5.11,0.7818) (-4.77,0.7845) (-4.44,0.7836) (-4.11,0.7945) (-3.77,0.7782) (-3.44,0.7800) (-3.11,0.7827) (-2.77,0.7891) (-2.44,0.7764) (-2.11,0.7818) (-1.77,0.7873) (-1.44,0.7991) (-1.11,0.7818) (-0.77,0.7800) (-0.44,0.7818) (-0.11,0.7873) (0.23,0.7809) (0.56,0.7800) (0.89,0.7918) (1.23,0.7818) (1.56,0.7764) (1.89,0.7755) (2.23,0.7764) (2.56,0.7818) (2.89,0.7891) (3.23,0.7691) (3.56,0.7655) (3.78,0.7727) (4.12,0.7655) (4.45,0.7745) (4.78,0.7755) (5.12,0.7782) (5.34,0.7764) (5.67,0.7827) (6.0,0.7555) (6.34,0.7745) (6.67,0.7745) (6.89,0.7836) (7.23,0.7600) (7.56,0.7709) (7.89,0.7718) (8.23,0.7727) (8.56,0.7764) (8.89,0.7718) (9.23,0.7691) (9.56,0.7845) (9.89,0.7891) (10.23,0.7927) (10.45,0.7955) (10.78,0.7782) (11.12,0.7800) (11.45,0.7936) (11.78,0.7700) (12.12,0.7727) (12.45,0.7691) (12.78,0.7682)};
\addplot[swp={cPlum}{-90}] coordinates {
(-12.77,0.7664) (-12.44,0.7836) (-12.11,0.7845) (-11.77,0.7855) (-11.44,0.7809) (-11.11,0.7864) (-10.77,0.7809) (-10.55,0.8000) (-10.22,0.7891) (-10.0,0.7755) (-9.66,0.7836) (-9.33,0.7982) (-9.0,0.7818) (-8.66,0.7791) (-8.44,0.7836) (-8.11,0.7845) (-7.77,0.7955) (-7.44,0.7818) (-7.11,0.7864) (-6.77,0.7855) (-6.44,0.7818) (-6.11,0.8064) (-5.77,0.7900) (-5.44,0.7891) (-5.11,0.7773) (-4.77,0.7882) (-4.44,0.7973) (-4.11,0.7973) (-3.77,0.7864) (-3.44,0.7855) (-3.11,0.7855) (-2.77,0.7818) (-2.44,0.7836) (-2.11,0.7845) (-1.77,0.7800) (-1.44,0.7927) (-1.11,0.7818) (-0.77,0.7800) (-0.44,0.7864) (-0.11,0.7864) (0.23,0.7836) (0.56,0.7855) (0.89,0.7882) (1.23,0.7873) (1.56,0.7873) (1.89,0.7855) (2.23,0.7864) (2.56,0.7891) (2.89,0.7818) (3.12,0.7700) (3.45,0.8009) (3.78,0.7818) (4.12,0.7855) (4.45,0.7836) (4.78,0.7855) (5.12,0.7845) (5.45,0.7845) (5.78,0.7818) (6.12,0.7855) (6.45,0.7818) (6.78,0.7855) (7.12,0.7800) (7.45,0.7845) (7.78,0.7845) (8.12,0.7764) (8.45,0.7873) (8.78,0.7945) (9.12,0.7991) (9.45,0.7845) (9.78,0.7845) (10.12,0.7855) (10.45,0.7864) (10.78,0.7749) (11.12,0.7891) (11.45,0.7745) (11.78,0.7882) (12.12,0.7873) (12.45,0.7809) (12.78,0.7818)};
\addplot[dl] coordinates {(-13,0.7791) (0.3,0.7791)};
\addplot[dl] coordinates {(-0.8,0.7745) (13,0.7745)};
\node[text=cDelta, font=\fDel] at (axis cs:-0.6,0.7682) {Δ ≈ 0};
\end{axis}

%================ (f) temperature dependence ================
\begin{axis}[at={(557pt,-741pt)}, anchor=north west, scale only axis,
  width=325pt, height=264pt,
  xmin=7, xmax=62, ymin=0, ymax=4,
  xtick={10,20,30,40,50,60}, minor x tick num=1,
  ytick={0,0.5,1,1.5,2,2.5,3,3.5,4}, minor y tick num=1,
  xtick pos=left, ytick pos=left, tick align=inside,
  major tick length=5pt, minor tick length=3pt,
  tick style={black, line width=1pt},
  axis line style={line width=1pt},
  clip mode=individual,
  /pgf/number format/assume math mode=true,
  yticklabel style={text=cMRdark, font=\bfseries\fontsize{13}{13}\selectfont,
    /pgf/number format/.cd, fixed, fixed zerofill, precision=1},
  xticklabel style={font=\bfseries\fontsize{13.5}{13.5}\selectfont}]
\addplot[color=cMR, line width=1pt, mark=square, mark size=3pt,
  mark options={solid, fill=white, line width=0.8pt}] coordinates {
(9,3.28) (12,3.92) (15,3.82) (20,2.16) (25,3.25) (30,3.05) (35,2.00) (40,1.28) (50,0.40) (60,0.25)};
\draw[cDblue, line width=1pt, dash pattern=on 6pt off 3pt] (axis cs:26.6,3.10) -- (axis cs:26.6,1.16);
\draw[cDblue, line width=0.8pt, dash pattern=on 3pt off 2pt] (axis cs:26.6,3.23) ellipse [x radius=7pt, y radius=11pt];
\draw[cMR, line width=0.8pt, dash pattern=on 5pt off 2pt on 1.5pt off 2pt, -{Stealth[length=6pt,width=5pt]}] (axis cs:34.0,2.22) -- (axis cs:28.1,2.22);
\end{axis}
\begin{axis}[at={(557pt,-741pt)}, anchor=north west, scale only axis,
  width=325pt, height=264pt,
  xmin=7, xmax=62, ymin=-0.919, ymax=1.547,
  axis x line=none, axis y line*=right,
  ytick={-0.9,-0.6,-0.3,0,0.3,0.6,0.9,1.2,1.5}, minor y tick num=2,
  tick align=inside, major tick length=5pt, minor tick length=3pt,
  tick style={cDblue, line width=1pt},
  y axis line style={cDblue, line width=1.2pt},
  clip mode=individual,
  /pgf/number format/assume math mode=true,
  yticklabel style={text=cDblue, font=\bfseries\fontsize{13}{13}\selectfont,
    /pgf/number format/.cd, fixed, fixed zerofill, precision=1},
  legend cell align=left,
  legend style={draw=none, fill=none, inner sep=0pt, anchor=north west, at={(0.495,0.967)},
    font=\fLeg, row sep=5pt, nodes={inner sep=1.6pt}},
  legend image code/.code={\draw[mark repeat=2, mark phase=2, #1]
    plot coordinates {(0pt,0pt) (9pt,0pt) (18pt,0pt)};}]
\addlegendimage{color=cMR, line width=1pt, mark=square, mark size=3pt, mark options={solid, fill=white, line width=0.8pt}}
\addlegendentry{Magnetoresistance (\%)}
\addplot[color=cDblue, line width=1pt, mark=*, mark size=3.3pt] coordinates {
(9,1.475) (12,0.986) (15,0.703) (20,0.043) (25,0.22) (30,-0.446) (35,-0.788) (40,-0.807) (50,-0.72) (60,-0.259)};
\addlegendentry{Δ (\%)}
\draw[cDblue, line width=1pt, dash pattern=on 8pt off 4pt] (axis cs:23.2,0) -- (axis cs:62,0);
\draw[cDblue, line width=0.8pt, dash pattern=on 5pt off 2pt on 1.5pt off 2pt, -{Stealth[length=6pt,width=5pt]}] (axis cs:28.3,-0.234) -- (axis cs:34.2,-0.234);
\end{axis}

%================ texts ================
% panel letters
\node[font=\fPan] at (30pt,-21pt) {(a)};
\node[font=\fPan] at (495pt,-20pt) {(b)};
\node[font=\fPan] at (27pt,-368pt) {(c)};
\node[font=\fPan] at (502pt,-365pt) {(d)};
\node[font=\fPan] at (27pt,-716pt) {(e)};
\node[font=\fPan] at (497pt,-716pt) {(f)};

% axis titles
\node[font=\fAx, rotate=90] at (28pt,-170pt) {Resistance (MΩ)};
\node[font=\fAx, rotate=90] at (496pt,-168pt) {Resistance (MΩ)};
\node[font=\fAx, rotate=90] at (31pt,-508pt) {Resistance (MΩ)};
\node[font=\fAx, rotate=90] at (496pt,-524pt) {Resistance (MΩ)};
\node[font=\fAx, rotate=90] at (33pt,-868pt) {Resistance (MΩ)};
\node[font=\fAx] at (276pt,-350pt) {Magnetic Field (kG)};
\node[font=\fAx] at (740pt,-352pt) {Magnetic Field (kG)};
\node[font=\fAx] at (276pt,-703pt) {Magnetic Field (kG)};
\node[font=\fAx] at (742pt,-707pt) {Magnetic Field (kG)};
\node[font=\fAx] at (277pt,-1050pt) {Magnetic Field (kG)};
\node[font=\fAx, rotate=90] at (508pt,-871pt) {Magnetoresistance (\%)};
\node[font=\fAx] at (720pt,-1042pt) {Temperature (K)};
\node[font=\fAx, rotate=90, anchor=north, inner sep=0pt] at (921pt,-860pt) {Δ (\%)};

% (a)
\node[font=\fVolt] at (112pt,-54pt) {0.5 V};
\node[font=\fTemp] at (442pt,-54pt) {9 K};
\node[font=\fCmp] at (265pt,-150pt) {LZM + CNT\textsubscript{0.7}};
\node[font=\bfseries\fontsize{9}{9}\selectfont] at (264pt,-165pt) {Ni-Au};
\node[font=\fTemp] at (445pt,-195pt) {12 K};
% (b)
\node[font=\fVolt] at (845pt,-52pt) {0.5 V};
\node[font=\fTemp] at (908pt,-55pt) {15 K};
\node[font=\fCmp] at (822pt,-165pt) {LZM + CNT\textsubscript{0.7}};
\node[font=\bfseries\fontsize{11.5}{11.5}\selectfont] at (813pt,-182pt) {Ni-Au};
\node[font=\fTemp] at (906pt,-191pt) {20 K};
% (c)
\node[font=\fVolt] at (376pt,-411pt) {0.5 V};
\node[font=\fTemp] at (445pt,-405pt) {25 K};
\node[font=\fCmp] at (356pt,-522pt) {LZM + CNT\textsubscript{0.7}};
\node[font=\fNi] at (349pt,-537pt) {Ni-Au};
\node[font=\fTemp] at (445pt,-547pt) {30 K};
% (d)
\node[font=\fVolt] at (815pt,-403pt) {0.5 V};
\node[font=\fTemp] at (907pt,-408pt) {35 K};
\node[font=\fCmp] at (820pt,-508pt) {LZM + CNT\textsubscript{0.7}};
\node[font=\fNi] at (813pt,-523pt) {Ni-Au};
\node[font=\fTemp] at (907pt,-547pt) {40 K};
% (e)
\node[font=\fVolt] at (363pt,-750pt) {0.5 V};
\node[font=\fTemp] at (448pt,-750pt) {50 K};
\node[font=\fCmp] at (338pt,-874pt) {LZM + CNT\textsubscript{0.7}};
\node[font=\fNi] at (334pt,-892pt) {Ni-Au};
\node[font=\fTemp] at (448pt,-893pt) {60 K};
% (f)
\node[font=\fCmp] at (803pt,-846pt) {LZM + CNT\textsubscript{0.7}};
\node[font=\fNi] at (800pt,-867pt) {Ni-Au};
\node[font=\bfseries\fontsize{14}{14}\selectfont] at (588pt,-983pt) {0.5 V};

% axis breaks
\brk{80}{177}\brk{470}{177}
\brk{544}{177}\brk{934}{177}
\brk{80}{527}\brk{470}{527}
\brk{544}{527}\brk{934}{527}
\brk{82}{874}\brk{472}{874}

\pgfresetboundingbox
\path[use as bounding box] (0pt,0pt) rectangle (930pt,-1062pt);
\end{tikzpicture}
\end{document}
